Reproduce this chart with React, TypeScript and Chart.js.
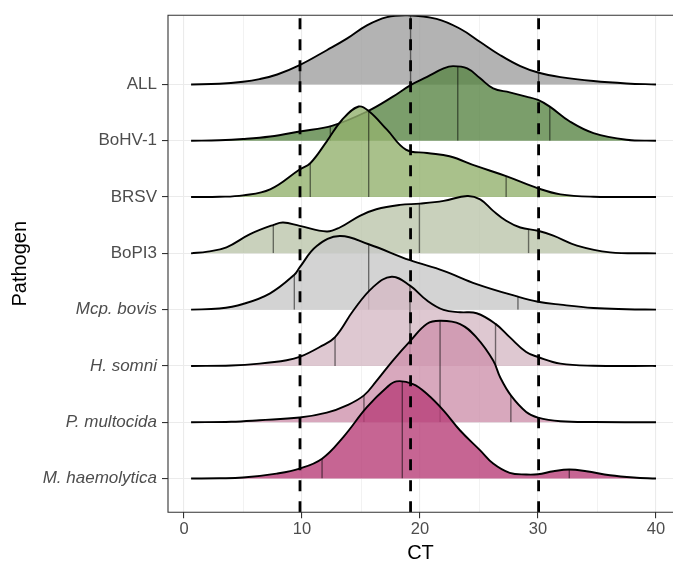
import React, { useEffect, useRef } from "react";
import { Chart, registerables } from "chart.js";

Chart.register(...registerables);

// Categories, top to bottom
const pathogens = ["ALL", "BoHV-1", "BRSV", "BoPI3", "Mcp. bovis", "H. somni", "P. multocida", "M. haemolytica"];
const italicPathogens = ["Mcp. bovis", "H. somni", "P. multocida", "M. haemolytica"];

// X axis ticks
const xMajorTicks = [0, 10, 20, 30, 40];
const xMinorTicks = [5, 15, 25, 35];

// Reference (dashed) lines = quantiles of ALL
const referenceLines = [9.83, 19.2, 30.05];

// Ridge densities (CT values, scaled density heights in rows)
const allX = [0.6, 3.0, 5.0, 6.4, 7.9, 9.8, 12.1, 13.8, 15.5, 17.2, 18.9, 21.4, 23.4, 25.1, 26.8, 28.5, 30.0, 31.9, 34.7, 37.5, 40.0];
const allY = [0, 0.012, 0.048, 0.095, 0.177, 0.343, 0.608, 0.813, 1.05, 1.196, 1.228, 1.166, 0.989, 0.754, 0.519, 0.325, 0.212, 0.131, 0.06, 0.018, 0];
const allQ = [9.83, 19.2, 30.05];

const bohvX = [0.6, 3.0, 5.0, 7.3, 9.8, 12.6, 15.5, 17.7, 19.2, 20.6, 22.0, 22.8, 24.0, 25.1, 26.2, 27.6, 29.0, 30.0, 31.0, 32.7, 34.7, 37.5, 40.0];
const bohvY = [0, 0.008, 0.03, 0.076, 0.165, 0.27, 0.518, 0.783, 0.989, 1.136, 1.284, 1.325, 1.284, 1.108, 0.931, 0.86, 0.783, 0.724, 0.606, 0.341, 0.136, 0.018, 0];
const bohvQ = [12.4, 23.2, 31.0];

const brsvX = [0.6, 3.0, 5.0, 7.3, 9.8, 10.7, 12.1, 13.4, 14.8, 15.7, 17.2, 18.8, 20.6, 22.5, 24.8, 27.3, 30.0, 31.9, 34.7, 40.0];
const brsvY = [0, 0.004, 0.03, 0.136, 0.489, 0.6, 0.989, 1.373, 1.608, 1.519, 1.196, 0.843, 0.783, 0.724, 0.548, 0.371, 0.154, 0.048, 0.006, 0];
const brsvQ = [10.7, 15.65, 27.3];

const bopiX = [0.6, 2.0, 3.6, 5.6, 7.6, 8.4, 9.8, 12.1, 13.2, 14.9, 16.3, 18.3, 20.0, 22.0, 24.0, 25.1, 26.2, 27.3, 28.5, 30.0, 31.3, 33.3, 36.1, 40.0];
const bopiY = [0, 0.03, 0.106, 0.341, 0.507, 0.548, 0.489, 0.389, 0.459, 0.666, 0.783, 0.86, 0.883, 0.931, 1.019, 0.959, 0.754, 0.578, 0.459, 0.401, 0.313, 0.136, 0.018, 0];
const bopiQ = [7.57, 19.95, 29.2];

const mcpX = [0.6, 3.0, 5.0, 7.3, 9.35, 9.8, 11.25, 13.2, 15.65, 19.15, 22.0, 24.8, 28.3, 30.0, 31.9, 34.7, 37.5, 40.0];
const mcpY = [0, 0.02, 0.1, 0.29, 0.62, 0.75, 1.13, 1.307, 1.161, 0.878, 0.689, 0.454, 0.23, 0.141, 0.088, 0.03, 0.008, 0];
const mcpQ = [9.35, 15.65, 28.3];

const hsomX = [0.6, 4.0, 6.4, 8.7, 9.8, 11.5, 12.8, 14.35, 16.0, 17.6, 19.15, 20.6, 22.0, 23.4, 24.8, 26.4, 27.6, 29.0, 30.0, 31.9, 34.7, 40.0];
const hsomY = [0, 0.008, 0.041, 0.1, 0.159, 0.336, 0.512, 0.984, 1.396, 1.585, 1.426, 1.161, 0.995, 0.954, 0.936, 0.747, 0.512, 0.247, 0.159, 0.041, 0.003, 0];
const hsomQ = [12.8, 19.15, 26.4];

const pmulX = [0.6, 4.0, 6.4, 9.8, 12.1, 13.8, 15.25, 16.3, 17.7, 19.2, 20.6, 21.7, 23.4, 24.8, 26.2, 26.8, 27.7, 29.0, 30.0, 31.9, 34.7, 40.0];
const pmulY = [0, 0.008, 0.035, 0.083, 0.17, 0.3, 0.477, 0.73, 1.095, 1.449, 1.749, 1.802, 1.744, 1.502, 1.095, 0.795, 0.477, 0.183, 0.083, 0.018, 0.003, 0];
const pmulQ = [15.25, 21.7, 27.7];

const mhaeX = [0.6, 3.0, 5.0, 7.85, 9.8, 11.7, 13.5, 15.5, 17.2, 18.0, 19.4, 20.6, 22.0, 23.4, 25.1, 26.2, 27.6, 29.0, 30.0, 31.3, 32.65, 34.1, 36.1, 38.1, 40.0];
const mhaeY = [0, 0.004, 0.018, 0.088, 0.177, 0.353, 0.737, 1.267, 1.62, 1.726, 1.678, 1.502, 1.207, 0.853, 0.5, 0.265, 0.1, 0.071, 0.076, 0.129, 0.159, 0.129, 0.058, 0.018, 0];
const mhaeQ = [11.7, 18.5, 32.65];

const ridgeColors = [
  "rgba(160,160,160,0.8)",
  "rgba(90,134,70,0.8)",
  "rgba(148,178,110,0.8)",
  "rgba(188,198,171,0.8)",
  "rgba(200,200,200,0.8)",
  "rgba(214,186,197,0.8)",
  "rgba(206,146,172,0.8)",
  "rgba(184,62,120,0.8)",
];

const ridgeX = [allX, bohvX, brsvX, bopiX, mcpX, hsomX, pmulX, mhaeX];
const ridgeY = [allY, bohvY, brsvY, bopiY, mcpY, hsomY, pmulY, mhaeY];
const ridgeQ = [allQ, bohvQ, brsvQ, bopiQ, mcpQ, hsomQ, pmulQ, mhaeQ];

const FONT = '"Liberation Sans", Arial, Helvetica, sans-serif';

const quantilePlugin = {
  id: "quantileLines",
  beforeDatasetDraw(chart: any, args: any) {
    const ds = chart.data.datasets[args.index];
    const line = args.meta.dataset;
    if (!ds.quantiles || !line) return;
    const { ctx, chartArea: a, scales } = chart;
    const pts = line.points;
    if (!pts || !pts.length) return;
    if (line.updateControlPoints) line.updateControlPoints(a, "x");
    const base = scales.y.getPixelForValue(ds.baseline);
    ctx.save();
    ctx.beginPath();
    ctx.rect(a.left, a.top, a.right - a.left, a.bottom - a.top);
    ctx.clip();
    ctx.beginPath();
    line.path(ctx);
    ctx.lineTo(pts[pts.length - 1].x, base);
    ctx.lineTo(pts[0].x, base);
    ctx.closePath();
    ctx.clip();
    ctx.strokeStyle = "rgba(0,0,0,0.5)";
    ctx.lineWidth = 1.4;
    ctx.beginPath();
    for (const q of ds.quantiles) {
      const px = scales.x.getPixelForValue(q);
      ctx.moveTo(px, base);
      ctx.lineTo(px, a.top);
    }
    ctx.stroke();
    ctx.restore();
  },
};

const overlayPlugin = {
  id: "overlay",
  afterDatasetsDraw(chart: any) {
    const { ctx, chartArea: a, scales } = chart;
    ctx.save();
    ctx.beginPath();
    ctx.rect(a.left, a.top, a.right - a.left, a.bottom - a.top);
    ctx.clip();
    ctx.strokeStyle = "#000";
    ctx.lineWidth = 2.8;
    ctx.setLineDash([11, 10]);
    for (const v of referenceLines) {
      const px = scales.x.getPixelForValue(v);
      ctx.beginPath();
      ctx.moveTo(px, a.bottom);
      ctx.lineTo(px, a.top);
      ctx.stroke();
    }
    ctx.restore();
    // panel border (right side is outside the picture)
    ctx.save();
    ctx.strokeStyle = "#333333";
    ctx.lineWidth = 1.1;
    ctx.beginPath();
    ctx.moveTo(a.right + 5, a.top);
    ctx.lineTo(a.left, a.top);
    ctx.lineTo(a.left, a.bottom);
    ctx.lineTo(a.right + 5, a.bottom);
    ctx.stroke();
    ctx.restore();
  },
};

export default function App() {
  const canvasRef = useRef<HTMLCanvasElement | null>(null);

  useEffect(() => {
    const canvas = canvasRef.current;
    if (!canvas) return;
    const n = pathogens.length;
    const datasets = pathogens.map((name, i) => {
      const baseline = n - i;
      return {
        label: name,
        data: ridgeX[i].map((x, j) => ({ x, y: baseline + ridgeY[i][j] })),
        baseline,
        quantiles: ridgeQ[i],
        borderColor: "#000000",
        borderWidth: 1.9,
        backgroundColor: ridgeColors[i],
        fill: { value: baseline },
        pointRadius: 0,
        tension: 0.4,
        order: n - i,
      };
    });
    const xTicks = [...xMajorTicks, ...xMinorTicks].sort((a, b) => a - b);
    const isMajor = (v: number) => xMajorTicks.includes(v);

    const chart = new Chart(canvas, {
      type: "line",
      data: { datasets: datasets as any },
      options: {
        animation: false,
        responsive: false,
        events: [],
        layout: { padding: { top: 13, left: 0, right: 0, bottom: 0 } },
        plugins: { legend: { display: false }, tooltip: { enabled: false } },
        scales: {
          x: {
            type: "linear",
            min: -1.356,
            max: 41.44,
            afterBuildTicks: (s: any) => {
              s.ticks = xTicks.map((v) => ({ value: v }));
            },
            afterFit: (s: any) => {
              s.height = 50.7;
            },
            ticks: {
              autoSkip: false,
              maxRotation: 0,
              padding: 1,
              color: "#4D4D4D",
              font: { size: 16.5, family: FONT, lineHeight: 1.2 },
              callback: (v: any) => (isMajor(Number(v)) ? String(v) : ""),
            },
            grid: {
              color: (c: any) => (c.tick && isMajor(c.tick.value) ? "#EBEBEB" : "#EFEFEF"),
              lineWidth: (c: any) => (c.tick && isMajor(c.tick.value) ? 1.1 : 0.8),
              tickColor: (c: any) => (c.tick && isMajor(c.tick.value) ? "#333333" : "rgba(0,0,0,0)"),
              tickLength: 6,
              tickWidth: 1.1,
            },
            border: { display: false },
            title: {
              display: true,
              text: "CT",
              color: "#000000",
              font: { size: 20, family: FONT, lineHeight: 1 },
              padding: { top: 0, bottom: 0 },
            },
          },
          y: {
            type: "linear",
            min: 0.4,
            max: 9.23,
            afterBuildTicks: (s: any) => {
              s.ticks = pathogens.map((_, i) => ({ value: i + 1 }));
            },
            afterFit: (s: any) => {
              s.width = 168;
            },
            ticks: {
              autoSkip: false,
              padding: 5,
              color: "#4D4D4D",
              font: (c: any) => {
                const v = c.tick ? c.tick.value : 0;
                const name = pathogens[n - v];
                return {
                  size: 17,
                  family: FONT,
                  style: italicPathogens.includes(name) ? "italic" : "normal",
                };
              },
              callback: (v: any) => pathogens[n - Number(v)] ?? "",
            },
            grid: {
              color: "#EBEBEB",
              lineWidth: 1.1,
              tickColor: "#333333",
              tickLength: 6,
              tickWidth: 1.1,
            },
            border: { display: false },
            title: {
              display: true,
              text: "Pathogen",
              color: "#000000",
              font: { size: 20, family: FONT, lineHeight: 1.2 },
              padding: { top: 8.8, bottom: 0 },
            },
          },
        },
      } as any,
      plugins: [quantilePlugin, overlayPlugin],
    });
    return () => chart.destroy();
  }, []);

  return (
    <div style={{ position: "absolute", left: 0, top: 0, width: 673, height: 563, background: "#fff" }}>
      <canvas ref={canvasRef} width={673} height={563} style={{ display: "block" }} />
    </div>
  );
}
